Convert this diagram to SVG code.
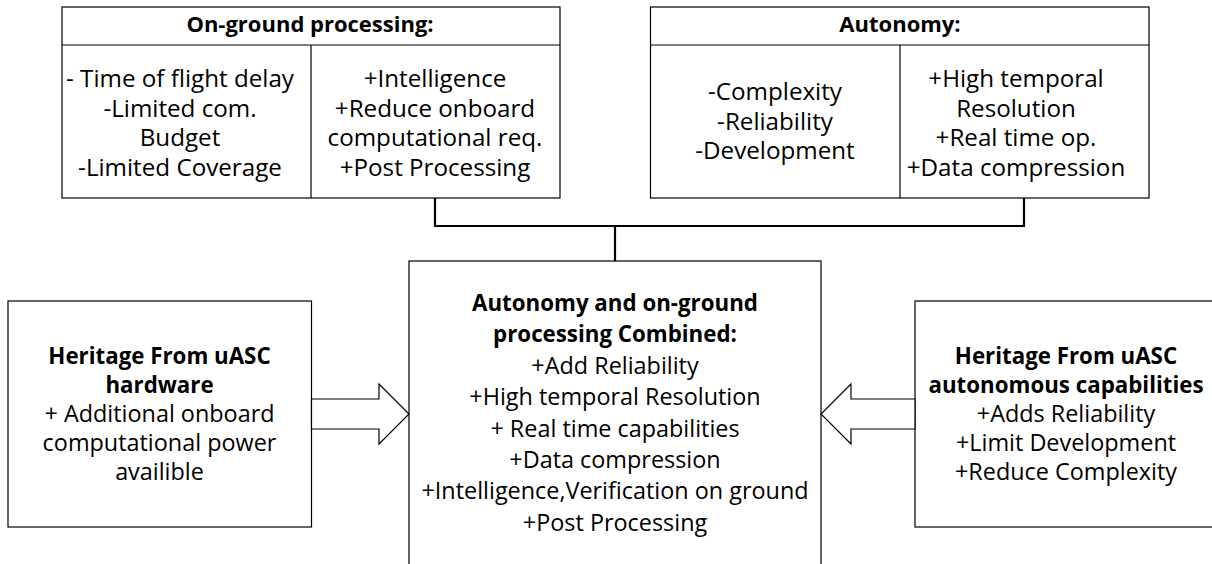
<svg xmlns="http://www.w3.org/2000/svg" width="1212" height="564" viewBox="0 0 1212 564">
  <style>
    .box { fill: #ffffff; stroke: #000000; stroke-width: 1.2; }
    .rule { stroke: #000000; stroke-width: 1.2; fill: none; }
    .link { stroke: #000000; stroke-width: 2.2; fill: none; }
    .arrow { fill: #ffffff; stroke: #000000; stroke-width: 1.2; stroke-linejoin: miter; }
    text { font-family: "Open Sans", "Noto Sans", "Liberation Sans", sans-serif; font-size: 23.4px; fill: #000000; text-anchor: middle; }
    .t { font-size: 24.2px; }
    .b { font-weight: bold; font-size: 22.3px; }
    .h { font-size: 22px; }
  </style>
  <rect width="1212" height="564" fill="#ffffff"/>

  <!-- connectors joining the two top tables to the combined box -->
  <g id="connectors">
    <path class="link" d="M435,198 V226 H1024 V198"/>
    <path class="link" d="M615,226 V261"/>
  </g>

  <!-- On-ground processing table -->
  <g id="on-ground">
    <rect class="box" x="62" y="7" width="498" height="191"/>
    <line class="rule" x1="62" y1="45" x2="560" y2="45"/>
    <line class="rule" x1="311" y1="45" x2="311" y2="198"/>
    <text class="b h" x="310" y="32">On-ground processing:</text>
    <text class="t" x="180" y="87">- Time of flight delay</text>
    <text class="t" x="180" y="116.5">-Limited com.</text>
    <text class="t" x="180" y="146">Budget</text>
    <text class="t" x="180" y="175.5">-Limited Coverage</text>
    <text class="t" x="435" y="87">+Intelligence</text>
    <text class="t" x="435" y="116.5">+Reduce onboard</text>
    <text class="t" x="435" y="146">computational req.</text>
    <text class="t" x="435" y="175.5">+Post Processing</text>
  </g>

  <!-- Autonomy table -->
  <g id="autonomy">
    <rect class="box" x="650.5" y="7" width="498.5" height="191"/>
    <line class="rule" x1="650.5" y1="45" x2="1149" y2="45"/>
    <line class="rule" x1="900" y1="45" x2="900" y2="198"/>
    <text class="b h" x="900" y="32">Autonomy:</text>
    <text class="t" x="775" y="100">-Complexity</text>
    <text class="t" x="775" y="129.5">-Reliability</text>
    <text class="t" x="775" y="159">-Development</text>
    <text class="t" x="1016" y="87">+High temporal</text>
    <text class="t" x="1016" y="116.5">Resolution</text>
    <text class="t" x="1016" y="146">+Real time op.</text>
    <text class="t" x="1016" y="175.5">+Data compression</text>
  </g>

  <!-- Combined box -->
  <g id="combined">
    <rect class="box" x="409" y="261" width="412" height="330"/>
    <text class="b" x="615" y="311">Autonomy and on-ground</text>
    <text class="b" x="615" y="342.4">processing Combined:</text>
    <text x="615" y="373.8">+Add Reliability</text>
    <text x="615" y="405.2">+High temporal Resolution</text>
    <text x="615" y="436.6">+ Real time capabilities</text>
    <text x="615" y="468">+Data compression</text>
    <text x="615" y="499.4">+Intelligence,Verification on ground</text>
    <text x="615" y="530.8">+Post Processing</text>
  </g>

  <!-- Hardware heritage box -->
  <g id="hardware-heritage">
    <rect class="box" x="8" y="301" width="303.5" height="226"/>
    <text class="b" x="159.5" y="364">Heritage From uASC</text>
    <text class="b" x="159.5" y="393">hardware</text>
    <text x="159.5" y="421.5">+ Additional onboard</text>
    <text x="159.5" y="450.5">computational power</text>
    <text x="159.5" y="479.5">availible</text>
  </g>

  <!-- Autonomous capabilities heritage box -->
  <g id="autonomy-heritage">
    <rect class="box" x="915" y="301" width="310" height="226"/>
    <text class="b" x="1066" y="364">Heritage From uASC</text>
    <text class="b" x="1066" y="393">autonomous capabilities</text>
    <text x="1066" y="421.5">+Adds Reliability</text>
    <text x="1066" y="450.5">+Limit Development</text>
    <text x="1066" y="479.5">+Reduce Complexity</text>
  </g>

  <!-- block arrows feeding the combined box -->
  <g id="arrow-left">
    <polygon class="arrow" points="311.5,399 379,399 379,384 409,414 379,444 379,429 311.5,429"/>
  </g>
  <g id="arrow-right">
    <polygon class="arrow" points="915,399 851,399 851,384 821,414 851,444 851,429 915,429"/>
  </g>
</svg>
